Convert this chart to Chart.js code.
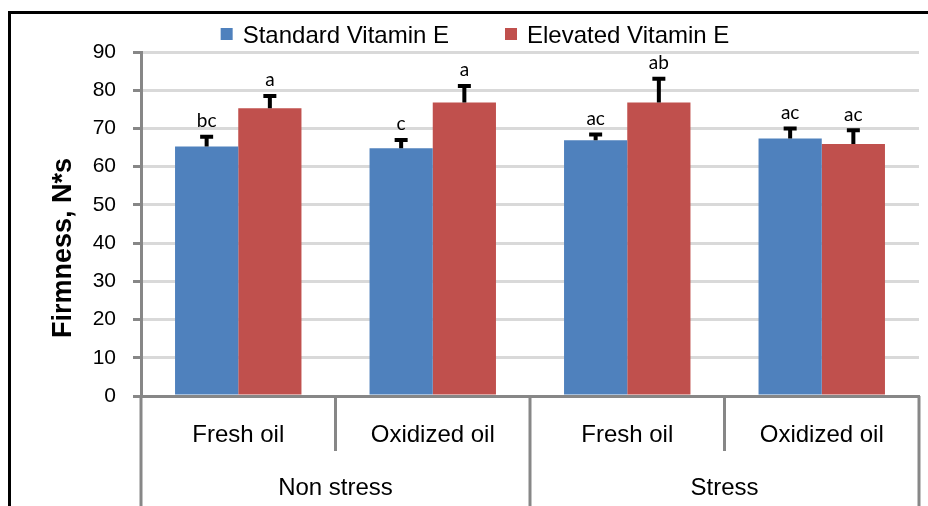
<!DOCTYPE html>
<html>
<head>
<meta charset="utf-8">
<script src="https://cdn.jsdelivr.net/npm/chart.js@4/dist/chart.umd.min.js"></script>
<style>
  html, body { margin: 0; padding: 0; background: #fff; }
  #wrap { width: 928px; height: 506px; }
</style>
</head>
<body>
<div id="wrap"><canvas id="chart" width="928" height="506"></canvas></div>
<script>
const categories = ["Fresh oil", "Oxidized oil", "Fresh oil", "Oxidized oil"];
const groups = ["Non stress", "Stress"];
const seriesNames = ["Standard Vitamin E", "Elevated Vitamin E"];
const standardValues = [65.3, 64.8, 66.9, 67.4];
const elevatedValues = [75.3, 76.8, 76.8, 65.9];
const standardErrors = [2.9, 2.6, 1.9, 3.0];
const elevatedErrors = [3.6, 4.7, 6.6, 4.0];
const standardLetters = ["bc", "c", "ac", "ac"];
const elevatedLetters = ["a", "a", "ab", "ac"];
const yTicks = [0, 10, 20, 30, 40, 50, 60, 70, 80, 90];
const yTitle = "Firmness, N*s";

const AXIS_GRAY = "#878787";
const SANS = '"Liberation Sans", Arial, sans-serif';

// frame, legend, y title, error bars + letters, two-level x labels
const extras = {
    id: "extras",
    beforeDraw(chart) {
        const ctx = chart.ctx;
        ctx.save();
        ctx.fillStyle = "#fff";
        ctx.fillRect(0, 0, chart.width, chart.height);
        ctx.strokeStyle = "#000";
        ctx.lineWidth = 3;
        ctx.beginPath();
        ctx.moveTo(9.5, chart.height);
        ctx.lineTo(9.5, 12.5);
        ctx.lineTo(chart.width, 12.5);
        ctx.stroke();
        ctx.restore();
    },
    afterDatasetsDraw(chart) {
        const ctx = chart.ctx;
        const y = chart.scales.y;
        const errs = [standardErrors, elevatedErrors];
        const letters = [standardLetters, elevatedLetters];
        ctx.save();
        chart.data.datasets.forEach((ds, d) => {
            chart.getDatasetMeta(d).data.forEach((bar, i) => {
                const top = y.getPixelForValue(ds.data[i] + errs[d][i]);
                ctx.strokeStyle = "#000";
                ctx.lineWidth = 4;
                ctx.beginPath();
                ctx.moveTo(bar.x, bar.y);
                ctx.lineTo(bar.x, top);
                ctx.moveTo(bar.x - 6.5, top + 1.5);
                ctx.lineTo(bar.x + 6.5, top + 1.5);
                ctx.stroke();
                ctx.fillStyle = "#000";
                ctx.font = '19px Lato, "Open Sans", sans-serif';
                ctx.textAlign = "center";
                ctx.textBaseline = "alphabetic";
                ctx.fillText(letters[d][i], bar.x, top - 8);
            });
        });
        ctx.restore();
    },
    afterDraw(chart) {
        const ctx = chart.ctx;
        const x = chart.scales.x;
        const area = chart.chartArea;
        const bottom = chart.height;
        const px = categories.map((c, i) => x.getPixelForValue(i));
        ctx.save();
        // separators
        ctx.strokeStyle = AXIS_GRAY;
        ctx.lineWidth = 3;
        ctx.beginPath();
        for (let g = 0; g < groups.length; g++) {
            const mid = (px[g * 2] + px[g * 2 + 1]) / 2;
            ctx.moveTo(mid, area.bottom);
            ctx.lineTo(mid, area.bottom + 55);
        }
        ctx.moveTo(area.left, area.bottom);
        ctx.lineTo(area.left, bottom);
        const gb = (px[1] + px[2]) / 2;
        ctx.moveTo(gb, area.bottom);
        ctx.lineTo(gb, bottom);
        ctx.moveTo(area.right, area.bottom);
        ctx.lineTo(area.right, bottom);
        ctx.stroke();
        // labels
        ctx.fillStyle = "#000";
        ctx.textAlign = "center";
        ctx.textBaseline = "alphabetic";
        ctx.font = "24px " + SANS;
        categories.forEach((c, i) => ctx.fillText(c, px[i], area.bottom + 46));
        const bounds = [area.left, gb, area.right];
        groups.forEach((g, i) => ctx.fillText(g, (bounds[i] + bounds[i + 1]) / 2, area.bottom + 99));
        // legend
        const colors = chart.data.datasets.map(d => d.backgroundColor);
        const widths = seriesNames.map(n => ctx.measureText(n).width);
        const box = 12, gap = 10, spacing = 56;
        const total = widths.reduce((a, w) => a + box + gap + w, 0) + spacing;
        let lx = 475 - total / 2;
        ctx.textAlign = "left";
        seriesNames.forEach((n, i) => {
            ctx.fillStyle = colors[i];
            ctx.fillRect(lx, 28, box, box);
            ctx.fillStyle = "#000";
            ctx.fillText(n, lx + box + gap, 43);
            lx += box + gap + widths[i] + spacing;
        });
        // y title
        ctx.translate(64, 248);
        ctx.rotate(-Math.PI / 2);
        ctx.textAlign = "center";
        ctx.textBaseline = "middle";
        ctx.font = "bold 27px " + SANS;
        ctx.fillText(yTitle, 0, 0);
        ctx.restore();
    }
};

new Chart(document.getElementById("chart"), {
    type: "bar",
    data: {
        labels: categories,
        datasets: [
            { label: seriesNames[0], data: standardValues, backgroundColor: "#4f81bd" },
            { label: seriesNames[1], data: elevatedValues, backgroundColor: "#c0504d" }
        ]
    },
    options: {
        responsive: false,
        animation: false,
        layout: { padding: { top: 52, left: 48, right: 9, bottom: 0 } },
        categoryPercentage: 0.65,
        barPercentage: 1.0,
        scales: {
            x: {
                ticks: { display: false },
                grid: { display: false },
                border: { color: AXIS_GRAY, width: 3 },
                afterFit(scale) { scale.height = 110; }
            },
            y: {
                min: 0,
                max: 90,
                afterBuildTicks(scale) { scale.ticks = yTicks.map(v => ({ value: v })); },
                ticks: { color: "#000", padding: 17, font: { family: SANS, size: 21 } },
                grid: { color: "#d9d9d9", lineWidth: 3, tickColor: AXIS_GRAY, tickLength: 8, tickWidth: 3 },
                border: { color: AXIS_GRAY, width: 3 },
                afterFit(scale) { scale.width = 93; }
            }
        },
        plugins: {
            legend: { display: false },
            tooltip: { enabled: false }
        }
    },
    plugins: [extras]
});
</script>
</body>
</html>
